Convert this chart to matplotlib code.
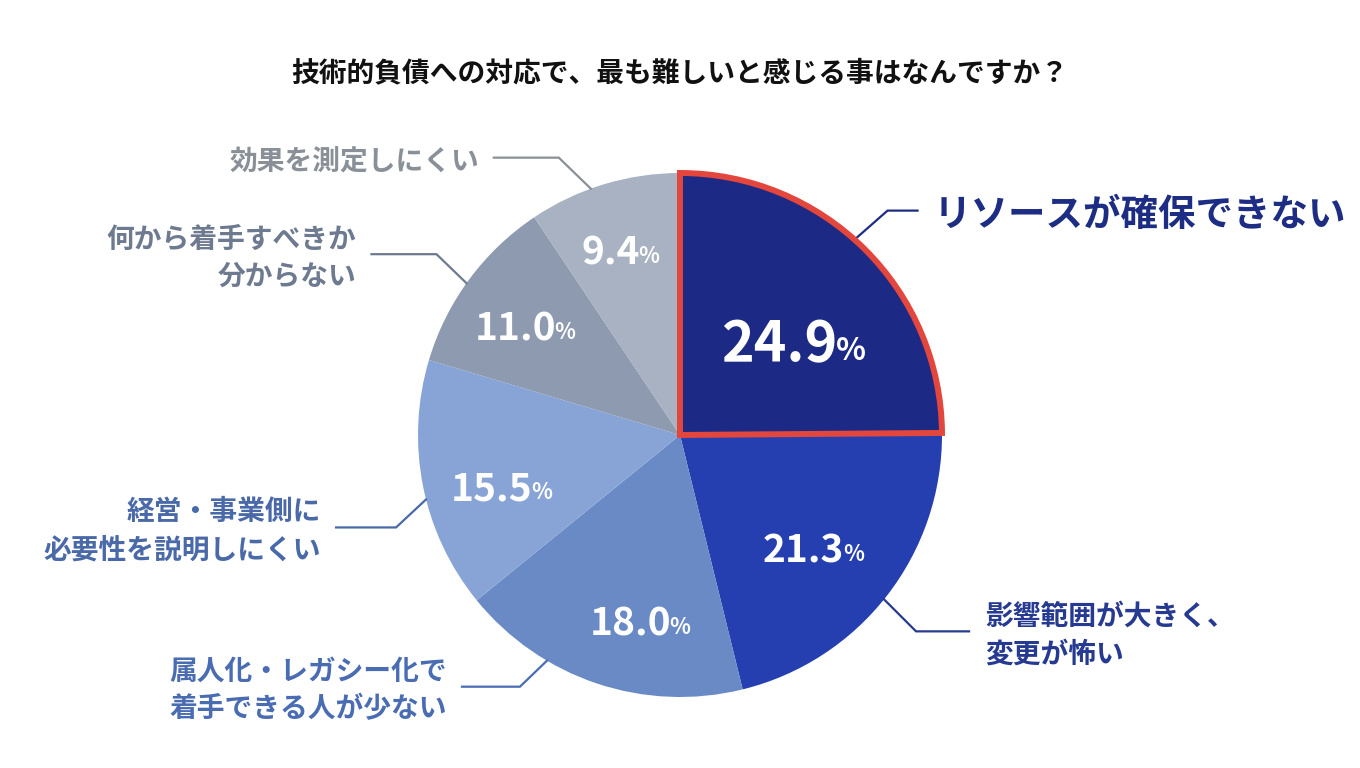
import numpy as np
import matplotlib.pyplot as plt

plt.rcParams['font.family'] = ['Noto Sans CJK JP', 'DejaVu Sans']

# データ
title = "技術的負債への対応で、最も難しいと感じる事はなんですか？"
labels = [
    "リソースが確保できない",
    "影響範囲が大きく、\n変更が怖い",
    "属人化・レガシー化で\n着手できる人が少ない",
    "経営・事業側に\n必要性を説明しにくい",
    "何から着手すべきか\n分からない",
    "効果を測定しにくい",
]
values = [24.9, 21.3, 18.0, 15.5, 11.0, 9.4]

# スタイル
slice_colors = ["#1c2a85", "#253fb0", "#6a8ac6", "#88a4d6", "#8e9ab0", "#a8b2c2"]
label_colors = ["#1e2d84", "#263a92", "#4a6cb2", "#4a69a8", "#6e7a90", "#8a9098"]
pct_dist = [0.56, 0.66, 0.72, 0.71, 0.73, 0.75]
pct_turn = [-5, -2, 6, 4, 1, 1]          # ％ラベルの角度補正（度）
pct_size = [40, 28, 28, 28, 28, 28]
label_size = [27, 20, 20, 20, 20, 20]
anchor_shift = [3, -1, -12, 3, 1, 3]     # 引き出し線の付け根（度）
elbow = [(33, 29), (32, -32), (-27, -26), (-30, -28), (-30, 29), (-32, 31)]
run = [30, 53, -58, -60, -65, -65]

cx, cy, r = 680, 768 - 435, 262

fig = plt.figure(figsize=(13.6, 7.68), dpi=100)
ax = fig.add_axes([0, 0, 1, 1])

wedges, _ = ax.pie(values, colors=slice_colors, startangle=90, counterclock=False,
                   radius=r, center=(cx, cy), wedgeprops=dict(linewidth=0))
ax.set_xlim(0, 1360)
ax.set_ylim(0, 768)
ax.set_aspect('equal')
ax.axis('off')

# 最大の項目を赤枠で強調
wedges[0].set_edgecolor("#e2463d")
wedges[0].set_linewidth(4.3)
wedges[0].set_joinstyle('miter')
wedges[0].set_zorder(5)

ax.text(cx, 768 - 73, title, ha='center', va='center', fontsize=20,
        fontweight='bold', color='#111111')

for i, w in enumerate(wedges):
    mid = np.deg2rad((w.theta1 + w.theta2) / 2 + pct_turn[i])
    px = cx + r * pct_dist[i] * np.cos(mid)
    py = cy + r * pct_dist[i] * np.sin(mid) - 5
    num = ax.text(px - pct_size[i] * 0.32, py, f"{values[i]:.1f}", ha='center', va='center',
                  fontsize=pct_size[i], fontweight='bold', color='white', zorder=6)
    ax.annotate("%", xy=(1, 0.12), xycoords=num, xytext=(-1, 0), textcoords='offset points',
                ha='left', va='bottom', fontsize=pct_size[i] * 0.56, fontweight='bold',
                color='white', zorder=6)

    # 引き出し線とラベル
    a = np.deg2rad((w.theta1 + w.theta2) / 2 + anchor_shift[i])
    x0, y0 = cx + r * np.cos(a), cy + r * np.sin(a)
    x1, y1 = x0 + elbow[i][0], y0 + elbow[i][1]
    x2 = x1 + run[i]
    ax.plot([x0, x1, x2], [y0, y1, y1], color=label_colors[i], lw=1.6,
            solid_joinstyle='miter', zorder=4)
    if run[i] > 0:
        ax.text(x2 + 16, y1 - 4, labels[i], ha='left', va='center', fontsize=label_size[i],
                fontweight='bold', color=label_colors[i], linespacing=1.45)
    else:
        ax.text(x2 - 15, y1 - 4, labels[i], ha='right', va='center', fontsize=label_size[i],
                fontweight='bold', color=label_colors[i], linespacing=1.45,
                multialignment='right')

fig.savefig("out.png", dpi=100, facecolor='white')
